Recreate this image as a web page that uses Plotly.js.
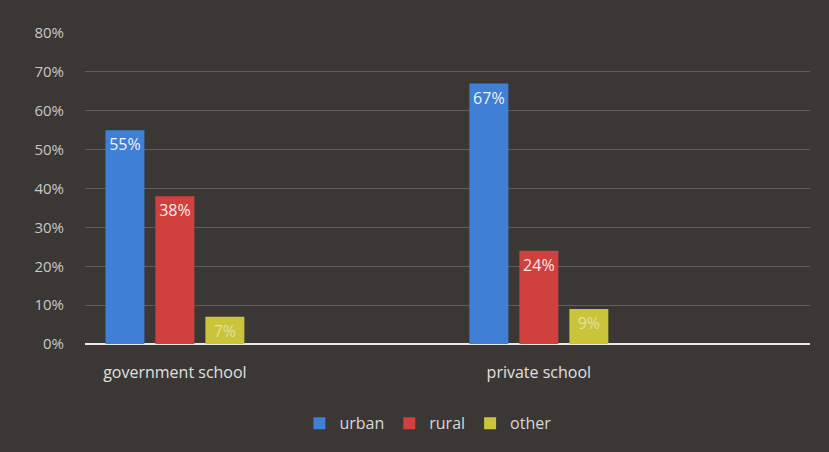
<!DOCTYPE html>
<html>
<head>
<meta charset="utf-8">
<script src="https://cdn.plot.ly/plotly-3.0.1.min.js"></script>
<style>html,body{margin:0;padding:0;background:#3a3734;}#chart{width:829px;height:452px;}</style>
</head>
<body>
<div id="chart"></div>
<script>
const categories = ["government school", "private school"];
const urban = [55, 67];
const rural = [38, 24];
const other = [7, 9];
const seriesNames = ["urban", "rural", "other"];
const yTickVals = [0, 10, 20, 30, 40, 50, 60, 70, 80];
const yTickText = ["0%", "10%", "20%", "30%", "40%", "50%", "60%", "70%", "80%"];

const colors = ["#3f7fd6", "#d0413d", "#c9c43a"];
const series = [urban, rural, other];

const traces = series.map((vals, i) => ({
  type: "bar",
  name: seriesNames[i],
  x: categories,
  y: vals,
  text: vals.map(v => v + "%"),
  textposition: "inside",
  insidetextanchor: "end",
  constraintext: "none",
  textfont: {color: i === 2 ? "rgba(235,235,200,0.75)" : "rgba(255,255,255,0.92)", size: 16, family: "Open Sans"},
  marker: {color: colors[i], line: {width: 0}},
  hoverinfo: "none"
}));

const layout = {
  width: 829, height: 452,
  paper_bgcolor: "#3a3734",
  plot_bgcolor: "#3a3734",
  margin: {l: 85, r: 19, t: 33, b: 105},
  barmode: "group",
  bargap: 0.588,
  bargroupgap: 0.22,
  font: {family: "Open Sans", color: "#d6d6d6"},
  xaxis: {
    range: [-0.247, 1.745],
    showgrid: false,
    showline: false,
    zeroline: false,
    ticks: "",
    tickfont: {size: 16, color: "#e0e0e0"},
    ticklabelstandoff: 17
  },
  yaxis: {
    range: [0, 80],
    tickvals: yTickVals,
    ticktext: yTickText,
    showgrid: true,
    gridcolor: "rgba(190,185,180,0.3)",
    gridwidth: 1,
    zeroline: true,
    zerolinecolor: "#e8e8e8",
    zerolinewidth: 2,
    showline: false,
    ticks: "",
    tickfont: {size: 15, color: "#c8c8c8"},
    ticklabelstandoff: 20
  },
  showlegend: true,
  legend: {
    orientation: "h",
    x: 0.473, xanchor: "center",
    y: -0.255, yanchor: "middle",
    font: {size: 16, color: "#d8d8d8"},
    itemwidth: 30,
    bgcolor: "rgba(0,0,0,0)"
  }
};

Plotly.newPlot("chart", traces, layout, {staticPlot: true, displayModeBar: false});
</script>
</body>
</html>
